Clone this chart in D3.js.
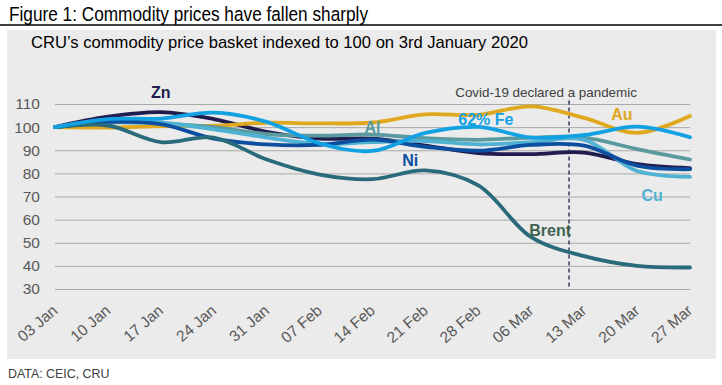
<!DOCTYPE html>
<html>
<head>
<meta charset="utf-8">
<script src="https://cdn.jsdelivr.net/npm/d3@7"></script>
<style>
  html, body { margin: 0; padding: 0; background: #ffffff; }
  svg { display: block; }
  text { font-family: "Liberation Sans", Arial, sans-serif; }
</style>
</head>
<body>
<svg id="chart" width="722" height="385"></svg>
<script>
// ---- Data ----
const dates = ["2020-01-03","2020-01-10","2020-01-17","2020-01-24","2020-01-31","2020-02-07","2020-02-14","2020-02-21","2020-02-28","2020-03-06","2020-03-13","2020-03-20","2020-03-27"];
const xTickLabels = ["03 Jan","10 Jan","17 Jan","24 Jan","31 Jan","07 Feb","14 Feb","21 Feb","28 Feb","06 Mar","13 Mar","20 Mar","27 Mar"];
const yTicks = [30, 40, 50, 60, 70, 80, 90, 100, 110];

const zn    = [100, 104.5, 106.5, 103.5, 98, 95, 95, 92, 88.8, 88.3, 89, 84, 82.3];
const au    = [100, 99.8, 100.4, 100.6, 101.9, 101.6, 102, 105.5, 105.3, 109, 104, 97.5, 104.8];
const al    = [100, 102, 101.5, 100, 97, 96.3, 96.8, 95.2, 94.5, 95.5, 95.5, 90.5, 86];
const fe    = [100, 103.5, 103.7, 106.3, 102.3, 93, 89.7, 97.5, 100.1, 95.5, 96.6, 100.2, 95.6];
const ni    = [100, 102.3, 101.3, 95, 92.5, 92.3, 94.6, 91.5, 89.8, 92.3, 92, 83.3, 81.8];
const cu    = [100, 102.5, 102, 99, 95.5, 92.8, 93.5, 94, 92.5, 93.5, 94.5, 81, 78.5];
const brent = [100, 100.7, 93.5, 95.5, 86, 79.5, 77.5, 81.3, 74.8, 52.4, 44.2, 40, 39.3];

const seriesNames = ["Zn", "Au", "Al", "Cu", "Ni", "Brent", "62% Fe"];
const seriesValues = [zn, au, al, cu, ni, brent, fe];
const covidDate = "2020-03-11";
const covidLabel = "Covid-19 declared a pandemic";

// ---- Styles ----
const colors = {
  "Zn": "#201d4e", "Au": "#e0a81f", "Al": "#5b9ba0", "Cu": "#4fb2d3",
  "Ni": "#0c4e9f", "Brent": "#2a6b7b", "62% Fe": "#12a1e3"
};
const labelColors = Object.assign({}, colors, { "Brent": "#3e6451" });

const parse = d3.timeParse("%Y-%m-%d %H");
const p = s => parse(s.length > 10 ? s : s + " 00");
const svg = d3.select("#chart");

// Title + rule
svg.append("text")
  .attr("x", 9).attr("y", 21)
  .attr("font-family", "'Liberation Sans Narrow', 'Arial Narrow', 'Liberation Sans', sans-serif")
  .attr("font-size", 20.5).attr("fill", "#000")
  .attr("textLength", 359).attr("lengthAdjust", "spacingAndGlyphs")
  .text("Figure 1: Commodity prices have fallen sharply");
svg.append("line").attr("x1", 0).attr("x2", 722).attr("y1", 25).attr("y2", 25)
  .attr("stroke", "#000").attr("stroke-width", 1.3);

// Panel
svg.append("rect").attr("x", 7).attr("y", 30).attr("width", 709).attr("height", 329)
  .attr("fill", "#ebebeb");

svg.append("text").attr("x", 31).attr("y", 48)
  .attr("font-size", 16.6).attr("fill", "#000")
  .text("CRU\u2019s commodity price basket indexed to 100 on 3rd January 2020");

// Footer
svg.append("text").attr("x", 8).attr("y", 378)
  .attr("font-size", 12.4).attr("fill", "#404040")
  .text("DATA: CEIC, CRU");

// Scales
const x = d3.scaleTime().domain([p(dates[0]), p(dates[dates.length - 1])]).range([55, 690]);
const y = d3.scaleLinear().domain([30, 110]).range([289, 104]);

// Y axis with gridlines
const yAxis = svg.append("g").attr("transform", "translate(55,0)")
  .call(d3.axisLeft(y).tickValues(yTicks).tickSize(-635).tickPadding(15).tickFormat(d3.format("d")));
yAxis.select(".domain").remove();
yAxis.selectAll(".tick line").attr("stroke", "#a9a9a9").attr("stroke-width", 1);
yAxis.selectAll(".tick text").attr("font-size", 15.5).attr("fill", "#595959")
  .attr("font-family", "'Liberation Sans', Arial, sans-serif");

// X axis
const xAxis = svg.append("g").attr("transform", "translate(0,289)")
  .call(d3.axisBottom(x).tickValues(dates.map(p)).tickSize(0)
    .tickFormat((d, i) => xTickLabels[i]));
xAxis.select(".domain").remove();
xAxis.selectAll(".tick text")
  .attr("font-size", 15.5).attr("fill", "#595959")
  .attr("font-family", "'Liberation Sans', Arial, sans-serif")
  .attr("text-anchor", "end")
  .attr("x", 0).attr("y", 0).attr("dy", 0)
  .attr("transform", "translate(3,23) rotate(-41)");

// Covid line
const cx = x(p(covidDate));
svg.append("line").attr("x1", cx).attr("x2", cx).attr("y1", y(111.5)).attr("y2", y(30))
  .attr("stroke", "#1e1e45").attr("stroke-width", 1.3).attr("stroke-dasharray", "4,3");
svg.append("text").attr("x", cx - 23).attr("y", 97)
  .attr("text-anchor", "middle").attr("font-size", 13.4).attr("fill", "#404040")
  .text(covidLabel);

// Lines
const line = d3.line()
  .x((d, i) => x(p(dates[i])))
  .y(d => y(d))
  .curve(d3.curveCatmullRom.alpha(0.5));

seriesNames.forEach((name, k) => {
  svg.append("path")
    .datum(seriesValues[k])
    .attr("fill", "none")
    .attr("stroke", colors[name])
    .attr("stroke-width", 3.8)
    .attr("stroke-linejoin", "round")
    .attr("stroke-linecap", "round")
    .attr("d", line);
});

// Series labels (anchor date, value at text baseline)
const labels = [
  { name: "Zn", date: "2020-01-17", v: 112.5 },
  { name: "Au", date: "2020-03-18", v: 103.0 },
  { name: "Cu", date: "2020-03-22", v: 68.0 },
  { name: "Al", date: "2020-02-14", v: 97.4 },
  { name: "62% Fe", date: "2020-02-29", v: 100.9 },
  { name: "Ni", date: "2020-02-19", v: 83.1 },
  { name: "Brent", date: "2020-03-08 12", v: 52.9 }
];
labels.forEach(l => {
  svg.append("text")
    .attr("x", x(p(l.date)))
    .attr("y", y(l.v))
    .attr("text-anchor", "middle")
    .attr("font-size", 16)
    .attr("font-weight", "bold")
    .attr("fill", labelColors[l.name])
    .text(l.name);
});
</script>
</body>
</html>
